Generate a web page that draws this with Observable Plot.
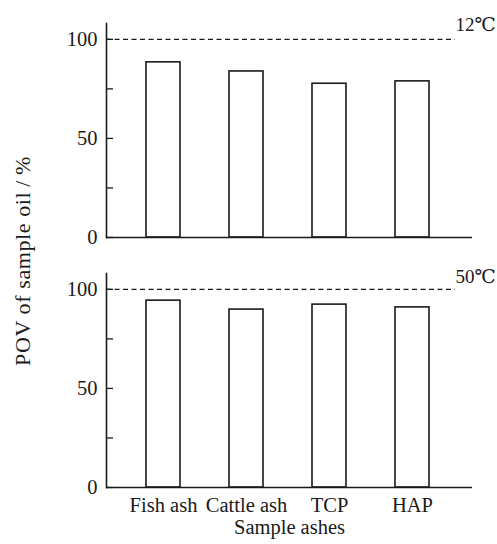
<!DOCTYPE html>
<html>
<head>
<meta charset="utf-8">
<script src="https://cdn.jsdelivr.net/npm/d3@7"></script>
<script src="https://cdn.jsdelivr.net/npm/@observablehq/plot@0.6"></script>
<style>
  html, body { margin: 0; padding: 0; background: #fff; }
  #wrap { position: relative; width: 497px; height: 544px; overflow: hidden; background: #fff; }
  #top, #bottom { position: absolute; left: 0; }
  #top { top: 0; }
  #bottom { top: 250px; }
  #ylabel {
    position: absolute; left: 23px; top: 261px;
    transform: translate(-50%, -50%) rotate(-90deg);
    white-space: nowrap; line-height: 1; letter-spacing: 0.6px;
    font-family: "Liberation Serif", "DejaVu Serif", serif; font-size: 22px; color: #1a1a1a;
  }
</style>
</head>
<body>
<div id="wrap">
  <div id="top"></div>
  <div id="bottom"></div>
  <div id="ylabel">POV of sample oil&#8201;/&#8201;%</div>
</div>
<script>
// ---- data ----
const samples = ["Fish ash", "Cattle ash", "TCP", "HAP"];
const pov12 = [88.4, 83.8, 77.6, 78.8];
const pov50 = [94.3, 89.8, 92.3, 90.9];
const temps = ["12℃", "50℃"];
const yTicks = [0, 25, 50, 75, 100];
const yTickLabels = [0, 50, 100];
const referenceLevel = [100];
const yMax = 108;
const xTitle = "Sample ashes";

const ink = "#1a1a1a";
const font = "'Liberation Serif', 'DejaVu Serif', serif";
const fs = 20.5;

function panel(values, temp, opts) {
  const data = samples.map((s, i) => ({sample: s, value: values[i]}));
  const W = 497, mL = 106, mR = 25;
  const frameW = W - mL - mR;
  const marks = [
    Plot.barY(data, {x: "sample", y: "value", fill: "white", stroke: ink, strokeWidth: 1.6}),
    Plot.ruleY(referenceLevel, {stroke: ink, strokeWidth: 1.3, strokeDasharray: "5,3.5", insetRight: 17}),
    Plot.ruleY(yTicks, {stroke: ink, strokeWidth: 1.3, insetRight: frameW - 7}),
    Plot.ruleY([0], {stroke: ink, strokeWidth: 1.6}),
    Plot.frame({anchor: "left", stroke: ink, strokeWidth: 1.6}),
    Plot.axisY(yTickLabels, {tickSize: 0, tickPadding: 9, fontSize: fs, label: null}),
    Plot.text([temp], {frameAnchor: "top-right", textAnchor: "start", dx: -17, dy: opts.tempDy, fontSize: 19, fill: ink})
  ];
  if (opts.xLabels) {
    marks.push(Plot.axisX({tickSize: 0, tickPadding: 10, fontSize: fs, label: null}));
    marks.push(Plot.text([xTitle], {frameAnchor: "bottom", dy: 46, fontSize: fs, fill: ink}));
  }
  return Plot.plot({
    width: W,
    height: opts.height,
    marginLeft: mL,
    marginRight: mR,
    marginTop: opts.mt,
    marginBottom: opts.mb,
    style: {fontFamily: font, fontSize: fs + "px", color: ink, background: "white", overflow: "visible"},
    x: {domain: samples, paddingInner: 0.59, paddingOuter: 0.487, align: 0.48, axis: null},
    y: {domain: [0, yMax], axis: null},
    marks
  });
}

document.getElementById("top").appendChild(panel(pov12, temps[0], {height: 250, mt: 23, mb: 13, tempDy: -6, xLabels: false}));
document.getElementById("bottom").appendChild(panel(pov50, temps[1], {height: 294, mt: 23, mb: 57, tempDy: -4, xLabels: true}));
</script>
</body>
</html>
